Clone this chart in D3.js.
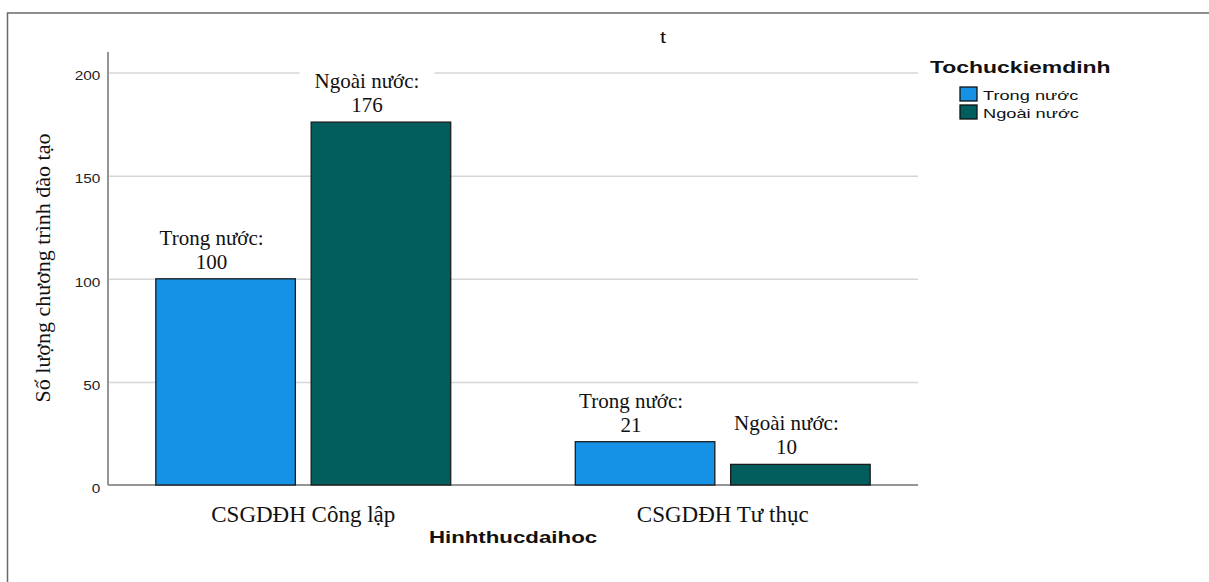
<!DOCTYPE html>
<html>
<head>
<meta charset="utf-8">
<script src="https://cdn.jsdelivr.net/npm/d3@7"></script>
<style>
  body { margin: 0; background: #fff; }
  svg { display: block; }
</style>
</head>
<body>
<svg id="chart" width="1209" height="582"></svg>
<script>
// Data
const categories = ["CSGDĐH Công lập", "CSGDĐH Tư thục"];
const seriesNames = ["Trong nước", "Ngoài nước"];
const trongNuoc = [100, 21];
const ngoaiNuoc = [176, 10];
const yTicks = [0, 50, 100, 150, 200];
const chartTitle = "t";
const xTitle = "Hinhthucdaihoc";
const yTitle = "Số lượng chương trình đào tạo";
const legendTitle = "Tochuckiemdinh";

const seriesValues = [trongNuoc, ngoaiNuoc];
const colors = ["#1591e6", "#025e5d"];

const svg = d3.select("#chart");
const SANS = "'Liberation Sans', Arial, sans-serif";
const SERIF = "'Liberation Serif', 'Times New Roman', serif";
// sans labels are drawn horizontally widened
const STRETCH = 1.35;

const plot = { left: 108, right: 918, top: 52, bottom: 485 };

// Outer frame
svg.append("path")
  .attr("d", `M7.5,582 V13 H1209`)
  .attr("fill", "none")
  .attr("stroke", "#6a6a6a")
  .attr("stroke-width", 1.5);

// Scales
const y = d3.scaleLinear().domain([0, 210]).range([plot.bottom, plot.top]);
const x0 = d3.scaleBand().domain(categories)
  .range([plot.left, plot.right])
  .paddingInner(0.297).paddingOuter(0.114);
const x1 = d3.scaleBand().domain(seriesNames)
  .range([0, x0.bandwidth()])
  .paddingInner(0.1017);

// Gridlines + tick labels
const yAxis = svg.append("g")
  .attr("transform", `translate(${plot.left},0)`)
  .call(d3.axisLeft(y).tickValues(yTicks)
    .tickSize(-(plot.right - plot.left)).tickPadding(6));
yAxis.select(".domain").remove();
yAxis.selectAll(".tick line")
  .attr("stroke", d => d === 0 ? "none" : "#d6d6d6")
  .attr("stroke-width", 1.5);
yAxis.selectAll(".tick text")
  .attr("font-family", SANS)
  .attr("font-size", 12)
  .attr("fill", "#222")
  .attr("dy", "0.6em")
  .attr("transform", "scale(1.28,1)");

// Axis lines
svg.append("line")
  .attr("x1", plot.left).attr("x2", plot.left)
  .attr("y1", plot.top).attr("y2", plot.bottom)
  .attr("stroke", "#959595").attr("stroke-width", 2);
svg.append("line")
  .attr("x1", plot.left).attr("x2", plot.right)
  .attr("y1", y(0)).attr("y2", y(0))
  .attr("stroke", "#959595").attr("stroke-width", 2);

// Bars
const barData = [];
categories.forEach((c, ci) => {
  seriesNames.forEach((s, si) => {
    barData.push({ cat: c, series: s, si, value: seriesValues[si][ci] });
  });
});

svg.append("g").selectAll("rect")
  .data(barData)
  .join("rect")
  .attr("x", d => x0(d.cat) + x1(d.series))
  .attr("y", d => y(d.value))
  .attr("width", x1.bandwidth())
  .attr("height", d => y(0) - y(d.value))
  .attr("fill", d => colors[d.si])
  .attr("stroke", "#1c1c1c")
  .attr("stroke-width", 1.3);

// Value labels (two lines, white backing)
const labels = svg.append("g").selectAll("g")
  .data(barData)
  .join("g")
  .attr("transform", d =>
    `translate(${x0(d.cat) + x1(d.series) + x1.bandwidth() / 2 - 14},${y(d.value) - 10})`);

labels.each(function (d) {
  const g = d3.select(this);
  const rect = g.append("rect").attr("fill", "#fff");
  const t = g.append("text")
    .attr("text-anchor", "middle")
    .attr("font-family", SERIF)
    .attr("font-size", 21)
    .attr("fill", "#111");
  t.append("tspan").attr("x", 0).attr("y", -24).text(d.series + ":");
  t.append("tspan").attr("x", 0).attr("y", 0).text(d.value);
  const bb = t.node().getBBox();
  rect.attr("x", bb.x - 15).attr("y", bb.y - 4)
    .attr("width", bb.width + 30).attr("height", bb.height + 6);
});

// Category labels
svg.append("g").selectAll("text")
  .data(categories)
  .join("text")
  .attr("x", d => x0(d) + x0.bandwidth() / 2)
  .attr("y", 522)
  .attr("text-anchor", "middle")
  .attr("font-family", SERIF)
  .attr("font-size", 23)
  .attr("fill", "#111")
  .text(d => d);

// Helper for widened sans text anchored at (x, y)
function wideText(parent, x, yPos, size, weight, anchor, str) {
  return parent.append("text")
    .attr("transform", `translate(${x},${yPos}) scale(${STRETCH},1)`)
    .attr("text-anchor", anchor)
    .attr("font-family", SANS)
    .attr("font-weight", weight)
    .attr("font-size", size)
    .attr("fill", "#111")
    .text(str);
}

// Axis titles
wideText(svg, (plot.left + plot.right) / 2, 543, 16.5, "bold", "middle", xTitle);

svg.append("text")
  .attr("transform", "translate(50,268) rotate(-90)")
  .attr("text-anchor", "middle")
  .attr("font-family", SERIF)
  .attr("font-size", 22)
  .attr("fill", "#111")
  .text(yTitle);

// Chart title
wideText(svg, 663, 43, 16, "normal", "middle", chartTitle);

// Legend
const legend = svg.append("g");
wideText(legend, 930, 73, 17, "bold", "start", legendTitle);

const items = legend.selectAll("g.item")
  .data(seriesNames)
  .join("g")
  .attr("class", "item")
  .attr("transform", (d, i) => `translate(960,${87 + i * 18})`);
items.append("rect")
  .attr("width", 17).attr("height", 14)
  .attr("fill", (d, i) => colors[i])
  .attr("stroke", "#111").attr("stroke-width", 1.3);
items.each(function (d) {
  wideText(d3.select(this), 23, 12.5, 13.5, "normal", "start", d);
});
</script>
</body>
</html>
